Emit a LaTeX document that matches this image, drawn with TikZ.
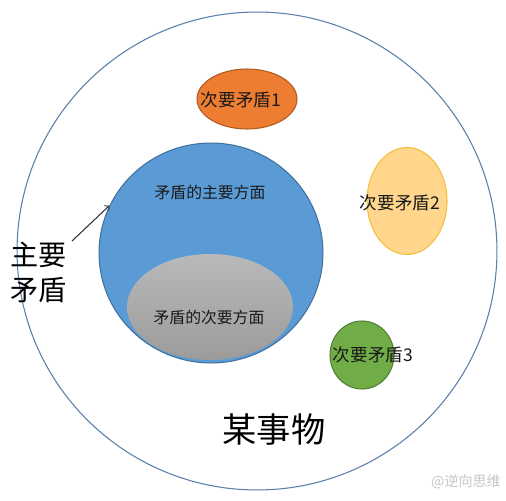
\documentclass[tikz,border=0pt]{standalone}
\usepackage{fontspec}
\setmainfont{Noto Sans CJK SC}
\usetikzlibrary{shapes.geometric}
\definecolor{thingline}{HTML}{5A7FAA}
\definecolor{mainfill}{HTML}{5B9BD5}
\definecolor{mainline}{HTML}{41719C}
\definecolor{orangefill}{HTML}{ED7D31}
\definecolor{orangeline}{HTML}{AE5A21}
\definecolor{yellowfill}{HTML}{FFD68C}
\definecolor{yellowline}{HTML}{F2C03C}
\definecolor{greenfill}{HTML}{70AD47}
\definecolor{greenline}{HTML}{507E32}

\begin{document}
\begin{tikzpicture}[x=0.02cm, y=-0.02cm,
  blob/.style={ellipse, draw, line width=0.6pt, inner sep=0pt},
  small/.style={font=\fontsize{9}{11}\selectfont, text=black!90},
  minor/.style={font=\fontsize{10}{12}\selectfont, text=black!90}]
  \useasboundingbox (0,0) rectangle (506,500);
  \fill[white] (0,0) rectangle (506,500);
  \node (thing) [blob, draw=thingline, minimum width=9.6cm, minimum height=9.56cm] at (257,251) {};
  \node (mainasp) [blob, fill=mainfill, draw=mainline, minimum width=4.48cm, minimum height=4.4cm] at (211,253) {};
  \node (minorasp) [blob, draw=none, top color=gray!55, bottom color=gray!78, minimum width=3.32cm, minimum height=2.12cm] at (210,307) {};
  \node (minor1) [blob, fill=orangefill, draw=orangeline, minimum width=2cm, minimum height=1.2cm] at (247,99) {};
  \node (minor2) [blob, fill=yellowfill, draw=yellowline, minimum width=1.6cm, minimum height=2.14cm] at (407,201) {};
  \node (minor3) [blob, fill=greenfill, draw=greenline, minimum width=1.28cm, minimum height=1.36cm] at (362,355) {};

  \node (mainlbl) [small] at (210,192) {矛盾的主要方面};
  \node (minorlbl) [small] at (209,317) {矛盾的次要方面};
  \node (minor1lbl) [minor] at (241,100) {次要矛盾1};
  \node (minor2lbl) [minor] at (400,203) {次要矛盾2};
  \node (minor3lbl) [minor] at (373,355) {次要矛盾3};

  \node (keylbl) [align=center, font=\fontsize{16}{20}\selectfont] at (39,272) {主要\\矛盾};
  \coordinate (arrowtail) at (72,241);
  \draw [->, line width=0.6pt, black!80] (arrowtail) -- (mainasp.155);

  \node (thinglbl) [font=\fontsize{19.5}{24}\selectfont] at (274,430) {某事物};
  \node (mark) [font=\fontsize{8}{10}\selectfont, text=gray!45] at (466,482) {@逆向思维};
\end{tikzpicture}
\end{document}
